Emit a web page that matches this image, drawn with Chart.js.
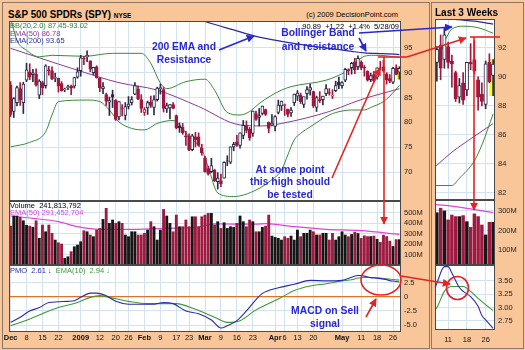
<!DOCTYPE html>
<html>
<head>
<meta charset="utf-8">
<script src="https://cdn.jsdelivr.net/npm/chart.js@4.4.1/dist/chart.umd.min.js"></script>
<style>
  body { margin:0; width:525px; height:350px; background:#f9c69a; position:relative; overflow:hidden;
         font-family:"Liberation Sans", Arial, sans-serif; }
  .frame { position:absolute; border:1px solid #8a786c; }
  canvas { position:absolute; }
  .t { position:absolute; white-space:nowrap; line-height:1; }
  .note { position:absolute; white-space:nowrap; font-weight:bold; font-size:11.5px; color:#2828d2;
          text-align:center; transform:scaleX(0.9); }
</style>
</head>
<body>
<div class="frame" style="left:2px;top:2px;width:426px;height:345px"></div>
<div class="frame" style="left:431px;top:2px;width:91px;height:345px"></div>

<canvas id="price" width="430" height="180" style="left:0;top:21px"></canvas>
<canvas id="volume" width="430" height="64" style="left:0;top:201px"></canvas>
<canvas id="pmo" width="430" height="81" style="left:0;top:265px"></canvas>
<canvas id="sidePrice" width="91" height="181" style="left:431px;top:19px"></canvas>
<canvas id="sideVolume" width="91" height="65" style="left:431px;top:200px"></canvas>
<canvas id="sidePmo" width="91" height="80" style="left:431px;top:265px"></canvas>

<div class="t" style="left:8px;top:9px;font-size:11.5px;font-weight:bold;transform:scaleX(0.85);transform-origin:left">S&amp;P 500 SPDRs (SPY) <span style="font-size:7.5px">NYSE</span></div>
<div class="t" style="right:127px;top:11px;font-size:7.5px">(c) 2009 DecisionPoint.com</div>
<div class="t" style="right:126px;top:23px;font-size:7.5px">90.89 &nbsp;+1.22 &nbsp;+1.4% &nbsp;5/28/09</div>
<div class="t" style="left:10px;top:21.5px;font-size:7.5px;color:#2f7f2f">BB(20,2.0) 87.45-93.02</div>
<div class="t" style="left:10px;top:29.5px;font-size:7.5px;color:#8b3d8f">EMA(50) 86.78</div>
<div class="t" style="left:10px;top:36.5px;font-size:7.5px;color:#2a2a9a">EMA(200) 93.65</div>
<div class="t" style="left:10px;top:201.5px;font-size:7.5px">Volume &nbsp;241,813,792</div>
<div class="t" style="left:10px;top:209px;font-size:7.5px;color:#dd44dd">EMA(50) 291,452,704</div>
<div class="t" style="left:10px;top:266.5px;font-size:7.5px"><span style="color:#2a2ab0">PMO &nbsp;2.61 ↓</span> &nbsp;<span style="color:#3a9a3a">EMA(10) &nbsp;2.94 ↓</span></div>
<div class="t" style="left:435px;top:8px;font-size:10px;font-weight:bold">Last 3 Weeks</div>

<div class="note" style="left:129px;top:39.5px;width:110px;line-height:13px">200 EMA and<br>Resistance</div>
<div class="note" style="left:263px;top:25px;width:110px;line-height:14px">Bollinger Band<br>and resistance</div>
<div class="note" style="left:235px;top:162.5px;width:110px;line-height:12.5px">At some point<br>this high should<br>be tested</div>
<div class="note" style="left:270px;top:303.5px;width:110px;line-height:13px">MACD on Sell<br>signal</div>

<svg width="525" height="350" style="position:absolute;left:0;top:0">
  <defs>
    <marker id="ab" viewBox="0 0 10 10" refX="9" refY="5" markerWidth="8" markerHeight="8" markerUnits="userSpaceOnUse" orient="auto"><path d="M0,0L10,5L0,10z" fill="#2828d2"/></marker>
    <marker id="ar" viewBox="0 0 10 10" refX="9" refY="5" markerWidth="8" markerHeight="8" markerUnits="userSpaceOnUse" orient="auto"><path d="M0,0L10,5L0,10z" fill="#e42424"/></marker>
  </defs>
  <g stroke="#2828d2" stroke-width="1.6" fill="none">
    <line x1="219" y1="50" x2="254" y2="36" marker-end="url(#ab)"/>
    <line x1="359" y1="33" x2="452" y2="27" marker-end="url(#ab)"/>
    <line x1="359" y1="38" x2="366" y2="51" marker-end="url(#ab)"/>
  </g>
  <g stroke="#e42424" stroke-width="1.6" fill="none">
    <line x1="332" y1="178" x2="380" y2="68" marker-end="url(#ar)"/>
    <line x1="378" y1="57" x2="407" y2="57"/>
    <line x1="407" y1="57" x2="466" y2="38" marker-end="url(#ar)"/>
    <line x1="470" y1="37" x2="500" y2="37"/>
    <line x1="384" y1="57" x2="384" y2="224" marker-end="url(#ar)"/>
    <line x1="474" y1="37" x2="474" y2="210" marker-end="url(#ar)"/>
    <ellipse cx="381" cy="280" rx="20" ry="15"/>
    <line x1="366" y1="317" x2="376" y2="299" marker-end="url(#ar)"/>
    <line x1="401" y1="276" x2="450" y2="284" marker-end="url(#ar)"/>
    <ellipse cx="457.5" cy="288" rx="11" ry="11.5"/>
  </g>
</svg>

<script>
// daily SPY bars, 12/1/2008 .. 5/28/2009 (one entry per trading day)
const opens = [
  87.5,82.2,84.0,86.8,84.0,88.5,90.2,89.6,89.7,85.5,88.0,87.4,90.6,90.4,88.9,88.9,87.8,86.6,87.0,87.3,87.3,89.1,
  90.4,92.8,93.2,92.4,90.0,91.2,88.9,86.8,85.6,84.1,85.6,84.5,81.1,82.9,81.4,83.2,84.0,85.7,86.7,84.6,
  82.0,82.9,84.1,83.0,84.6,86.8,86.6,82.7,82.9,83.6,81.4,79.3,79.0,77.3,77.3,74.5,77.1,77.1,74.8,
  72.9,70.7,70.1,70.4,68.1,68.3,68.8,72.2,72.0,75.1,76.1,75.4,77.4,79.3,78.6,77.8,81.8,81.0,81.8,82.6,80.0,79.5,
  79.2,82.0,83.3,83.4,82.7,81.9,84.0,85.3,85.5,83.6,85.8,86.5,86.2,83.0,84.6,84.6,85.8,86.0,85.3,86.4,88.1,
  87.4,88.5,90.6,91.0,92.2,91.2,92.1,91.1,90.3,88.6,89.6,89.1,91.0,91.2,89.8,88.8,88.1,91.0,90.1];
const highs = [
  88.2,85.0,87.3,88.0,88.1,91.9,91.8,90.7,90.8,88.6,88.3,91.6,91.3,91.2,89.9,88.9,88.2,86.9,87.5,87.5,89.1,91.0,
  93.5,93.3,94.4,92.4,91.1,91.4,89.0,88.0,85.9,85.1,86.5,84.6,84.2,83.6,84.0,85.2,85.2,88.0,87.3,85.6,
  83.0,84.3,85.3,85.4,87.1,87.7,87.0,83.9,83.6,84.0,81.5,79.9,79.8,78.2,77.7,77.6,78.0,77.9,75.6,
  73.2,71.2,72.8,70.6,69.9,69.6,72.1,73.3,75.1,76.0,77.4,77.9,80.4,80.3,79.0,82.3,82.3,82.8,83.3,82.7,80.1,81.6,
  81.4,84.5,84.3,83.7,82.7,83.0,85.7,86.4,85.9,85.1,87.2,87.7,86.3,85.3,86.2,85.3,87.6,86.8,86.6,88.3,89.1,
  88.2,90.9,90.8,92.1,92.9,93.4,92.4,91.5,90.4,89.9,90.3,91.0,92.3,92.5,90.0,89.6,91.1,91.6,91.2];
const lows = [
  81.2,81.0,83.3,83.4,81.8,88.2,88.6,88.2,87.3,84.8,85.6,86.9,89.5,88.6,88.2,86.1,86.3,86.2,86.6,85.6,86.9,88.9,
  89.3,91.6,92.2,90.2,89.6,88.9,86.2,85.8,83.4,81.4,83.0,80.4,80.5,81.3,80.5,82.7,83.5,85.6,84.6,82.0,
  81.4,81.6,83.0,81.5,84.3,85.7,82.1,82.0,80.7,82.7,78.7,78.0,77.6,75.4,74.3,74.3,75.1,75.2,73.4,
  70.0,69.4,69.9,68.1,66.6,67.1,68.8,71.3,71.7,74.3,75.2,74.8,76.7,77.9,76.4,77.2,80.4,79.3,81.5,81.4,77.9,79.3,
  78.3,81.7,82.4,81.4,81.1,81.2,83.4,84.4,83.8,83.0,84.7,85.5,83.0,82.2,84.0,83.5,85.4,85.5,84.8,86.2,86.8,
  86.9,88.2,89.6,89.7,89.8,90.6,90.6,89.3,88.3,88.2,88.1,88.7,90.5,90.2,87.7,88.0,87.8,89.6,88.7];
const closes = [
  81.6,84.8,87.0,84.6,87.7,90.6,89.1,90.0,87.5,88.3,87.0,91.4,90.4,88.8,89.0,87.3,86.4,86.7,87.2,86.9,89.0,90.2,
  93.0,92.8,93.5,90.7,91.1,89.0,87.0,87.2,84.3,84.4,85.1,80.6,84.2,82.8,83.2,83.7,84.6,87.4,84.7,82.8,
  82.6,84.0,83.4,84.6,86.9,87.0,82.8,83.4,83.6,82.8,78.9,78.9,77.9,77.1,74.4,77.3,76.5,75.4,73.9,
  70.1,69.7,71.3,68.3,68.8,67.7,72.0,72.2,75.1,75.6,75.4,77.9,79.4,78.4,76.9,82.3,80.6,81.4,83.3,81.6,78.8,79.8,
  81.2,83.5,84.3,83.6,81.6,82.5,85.7,85.9,84.2,85.2,86.6,87.0,83.3,85.0,84.4,85.3,86.8,85.9,85.5,87.4,87.5,
  88.0,90.7,90.4,91.9,90.6,92.9,91.0,90.9,88.5,89.4,88.4,91.0,90.9,90.4,88.6,88.3,90.9,89.67,90.89];
// volume in millions of shares
const volumes = [
  371,467,467,455,422,378,371,360,422,254,381,317,381,302,238,212,200,64,79,127,174,190,
  222,327,317,286,270,333,349,435,540,397,429,397,413,397,286,270,317,317,286,286,
  302,333,413,365,238,333,530,467,397,317,476,365,365,429,365,460,460,365,460,
  476,492,492,381,413,349,403,349,365,359,397,467,413,365,429,413,317,317,359,371,476,276,
  263,254,238,270,254,276,238,333,270,302,302,333,317,286,286,302,302,238,302,238,270,
  317,286,270,291,314,300,254,279,271,271,276,245,216,285,271,228,177,242,242];

// indicator lines at a few days each (day index -> value)
const bbUpperDays = [0,2,5,9,13,23,32,41,44,47,49,55,61,64,68,72,75,78,82,85,88,99,104,107,109,111,114,118,122];
const bbUpper = [101,96.5,94.5,93.2,93.5,93.3,93.9,93.9,91.9,87.9,86.8,88.2,88.7,86.5,82,81.5,82.2,83.8,85.5,86.5,87.2,88.5,89.8,91.0,92.4,93.3,93.5,93.4,93.02];
const bbLowerDays = [0,6,11,13,15,24,28,31,34,38,42,46,51,53,56,60,62,65,70,77,82,85,87,89,91,94,100,104,107,111,113,117,119,122];
const bbLower = [75.1,76,78.1,81.5,84.2,84.5,84.2,82.5,80.1,78.8,78.5,79.8,80.4,79.5,77.1,74.5,71.1,65.8,65.1,66.4,68.5,70.4,73.5,76.5,77.8,79.1,81.5,82.3,82.5,82.5,83,84.2,85.3,87.45];
const ema50Days = [0,9,21,34,46,59,72,79,85,100,107,111,117,122];
const ema50 = [94.9,93,90.5,88,86.5,83.2,79.5,79.3,79.8,82.2,83.9,84.8,85.9,86.78];
const ema200Days = [0,20,40,55,60,63,70,77,85,95,100,107,111,117,122];
const ema200 = [112,107.5,104,101.5,100.5,99.9,98.6,97.3,96.3,95.3,94.9,94.3,94.0,93.85,93.65];
const volEmaDays = [0,7,15,21,28,38,49,59,64,70,77,80,89,99,110,122];
const volEma = [467,445,413,365,340,340,349,362,392,390,390,395,365,340,327,291.5];
const pmoDays = [0,3,6,9,12,18,20,22,25,27,30,33,37,41,45,48,51,55,59,63,66,68,71,74,77,79,84,89,94,99,104,107,109,110,111,113,114,116,118,119,120,122];
const pmo = [-4.5,-3.6,-2.5,-1.9,-1.0,-0.8,-0.7,-0.1,0.65,0.65,0.2,-0.8,-1.3,-1.3,-1.3,-1.0,-1.2,-2.5,-3.0,-4.1,-5.5,-5.1,-4.2,-2.5,-0.5,0.6,1.6,2.2,2.9,2.8,2.9,3.45,3.76,3.76,3.64,3.37,3.3,3.2,3.02,2.85,2.77,2.61];
const pmoSigDays = [0,6,12,15,21,25,28,31,37,43,47,52,58,64,68,72,77,84,89,94,99,104,107,109,111,114,116,118,122];
const pmoSig = [-5.1,-3.9,-2.5,-1.9,-1.0,-0.1,0.2,-0.1,-0.8,-1.2,-1.2,-1.2,-2.2,-3.6,-4.5,-4.2,-2.3,-0.4,1.1,1.9,2.3,2.8,3.0,3.3,3.39,3.39,3.3,3.17,2.94];

// axis ticks
const mainTickDays = [0,5,10,15,22,28,33,37,42,47,52,56,61,66,71,76,83,86,90,95,104,110,115,120];
const mainTickText = ['Dec','8','15','22','2009','12','20','26','Feb','9','17','23','Mar','9','16','23','Apr','6','13','20','May','11','18','26'];
const sideTickDays = [110,115,120];
const sideTickText = ['11','18','26'];
const boldLabels = ['Dec','2009','Feb','Mar','Apr','May'];
const priceTicks = [70,75,80,85,90,95];
const volTicks = [100,200,300,400,500];
const pmoTicks = [-5,-2.5,0,2.5];
const sidePriceTicks = [82,84,86,88,90,92];
const sideVolTicks = [100,200,300];
const sidePmoTicks = [2.75,3,3.25,3.5];

Chart.defaults.font.family = "'Liberation Sans', Arial, sans-serif";

const GRID = '#d3e2f1';
const UP = '#2a2a44', DOWN = '#a0173f';
const N = closes.length;

function pts(days, vals) { return days.map((d, i) => ({ x: d, y: vals[i] })); }
function dayRange(from) { const r = []; for (let i = from; i < N; i++) r.push(i); return r; }
function tone(i) { return closes[i] >= (i ? closes[i - 1] : opens[i]) ? UP : DOWN; }

const framePlugin = {
  id: 'frame',
  beforeDraw(c) {
    const a = c.chartArea, g = c.ctx;
    g.save(); g.fillStyle = '#fff'; g.fillRect(a.left, a.top, a.width, a.height); g.restore();
  },
  afterDraw(c) {
    const a = c.chartArea, g = c.ctx;
    g.save(); g.strokeStyle = '#4a4a4a'; g.lineWidth = 1;
    g.strokeRect(a.left + 0.5, a.top + 0.5, a.width - 1, a.height - 1); g.restore();
  }
};

function xAxis(min, max, tDays, tText, labelHeight, pad) {
  return {
    type: 'linear', min, max, offset: false,
    afterBuildTicks: s => { s.ticks = tDays.map(v => ({ value: v })); },
    afterFit: s => { s.height = labelHeight; s.paddingLeft = 0; s.paddingRight = 0; },
    ticks: {
      display: labelHeight > 0, autoSkip: false, maxRotation: 0, padding: pad || 1, color: '#111',
      callback: (v, i) => tText[i],
      font: c => ({ size: 7.5, weight: boldLabels.includes(tText[c.index]) ? 'bold' : 'normal' })
    },
    grid: { color: GRID, drawTicks: false, offset: false },
    border: { display: false }
  };
}

function yAxis(min, max, tickVals, fmt, width, zero) {
  const isZero = c => zero && c.tick && c.tick.value === 0;
  return {
    type: 'linear', position: 'right', min, max,
    afterBuildTicks: s => { s.ticks = tickVals.map(v => ({ value: v })); },
    afterFit: s => { s.width = width; s.paddingTop = 0; s.paddingBottom = 0; },
    ticks: { callback: fmt, padding: 3, color: '#222', font: { size: 7.5 } },
    grid: { drawTicks: false, color: c => isZero(c) ? '#d9732e' : GRID, lineWidth: c => isZero(c) ? 1.3 : 1 },
    border: { display: false }
  };
}

function lineSet(days, vals, color, w) {
  return { type: 'line', order: 2, clip: 0, data: pts(days, vals), borderColor: color, borderWidth: w || 1,
           pointRadius: 0, cubicInterpolationMode: 'monotone', fill: false };
}

function candleSets(from, bodyW, hlW) {
  const ids = dayRange(from);
  return [
    { type: 'bar', order: 0, grouped: false, clip: 0, barThickness: bodyW, borderWidth: 1, borderSkipped: false,
      data: ids.map(i => {
        const lo = Math.min(opens[i], closes[i]), hi = Math.max(opens[i], closes[i]);
        return { x: i, y: [lo, Math.max(hi, lo + 0.1)] };
      }),
      backgroundColor: ids.map(i => closes[i] > opens[i] ? '#ffffff' : tone(i)),
      borderColor: ids.map(tone) },
    { type: 'bar', order: 1, grouped: false, clip: 0, barThickness: 1,
      data: ids.map(i => ({ x: i, y: [lows[i], highs[i]] })),
      backgroundColor: ids.map(tone) },
    { type: 'bar', order: 9, grouped: false, clip: 0, barThickness: hlW,
      data: [{ x: N - 1, y: [lows[N - 1], highs[N - 1]] }], backgroundColor: '#ffff00' }
  ];
}

function volumeSets(from, w) {
  const ids = dayRange(from);
  return [
    { type: 'bar', order: 1, grouped: false, clip: 0, barThickness: w,
      data: ids.map(i => ({ x: i, y: volumes[i] })),
      backgroundColor: ids.map(i => tone(i) === UP ? '#161616' : '#9e1a40') },
    lineSet(volEmaDays, volEma, '#dd44dd', 1.2)
  ];
}

function panel(id, datasets, x, y, padLeft) {
  return new Chart(document.getElementById(id), {
    type: 'bar',
    data: { datasets },
    options: {
      responsive: false, devicePixelRatio: 1, animation: false, events: [],
      layout: { padding: { left: padLeft, right: 0, top: 0, bottom: 0 } },
      plugins: { legend: { display: false }, tooltip: { enabled: false } },
      scales: { x, y }
    },
    plugins: [framePlugin]
  });
}

const priceLines = () => [
  lineSet(bbUpperDays, bbUpper, '#3a8a3a'),
  lineSet(bbLowerDays, bbLower, '#3a8a3a'),
  lineSet(ema50Days, ema50, '#8b3d8f'),
  lineSet(ema200Days, ema200, '#2a2a9a', 1.2)
];
const pmoLines = () => [
  lineSet(pmoDays, pmo, '#2a2ab0', 1.1),
  lineSet(pmoSigDays, pmoSig, '#3a9a3a', 1.1)
];

// main chart, full period
panel('price', [...candleSets(0, 3, 5), ...priceLines()],
  xAxis(-0.5, 122.5, mainTickDays, mainTickText, 0),
  yAxis(64.2, 100.4, priceTicks, v => String(v), 29), 9);
panel('volume', volumeSets(0, 2.2),
  xAxis(-0.5, 122.5, mainTickDays, mainTickText, 0),
  yAxis(0, 610, volTicks, v => v + 'M', 29), 9);
panel('pmo', pmoLines(),
  xAxis(-0.5, 122.5, mainTickDays, mainTickText, 14, 1),
  yAxis(-6.2, 5.6, pmoTicks, v => v === 0 ? '0' : v.toFixed(1), 29, true), 9);

// last 3 weeks
panel('sidePrice', [...candleSets(107, 3.4, 7), ...priceLines()],
  xAxis(106.5, 122.5, sideTickDays, sideTickText, 0),
  yAxis(81.5, 94, sidePriceTicks, v => String(v), 27), 4);
panel('sideVolume', volumeSets(107, 2.8),
  xAxis(106.5, 122.5, sideTickDays, sideTickText, 0),
  yAxis(23, 356, sideVolTicks, v => v + 'M', 27), 4);
panel('sidePmo', pmoLines(),
  xAxis(106.5, 122.5, sideTickDays, sideTickText, 15, 5),
  yAxis(2.58, 3.79, sidePmoTicks, v => v.toFixed(2), 27), 4);
</script>
</body>
</html>
